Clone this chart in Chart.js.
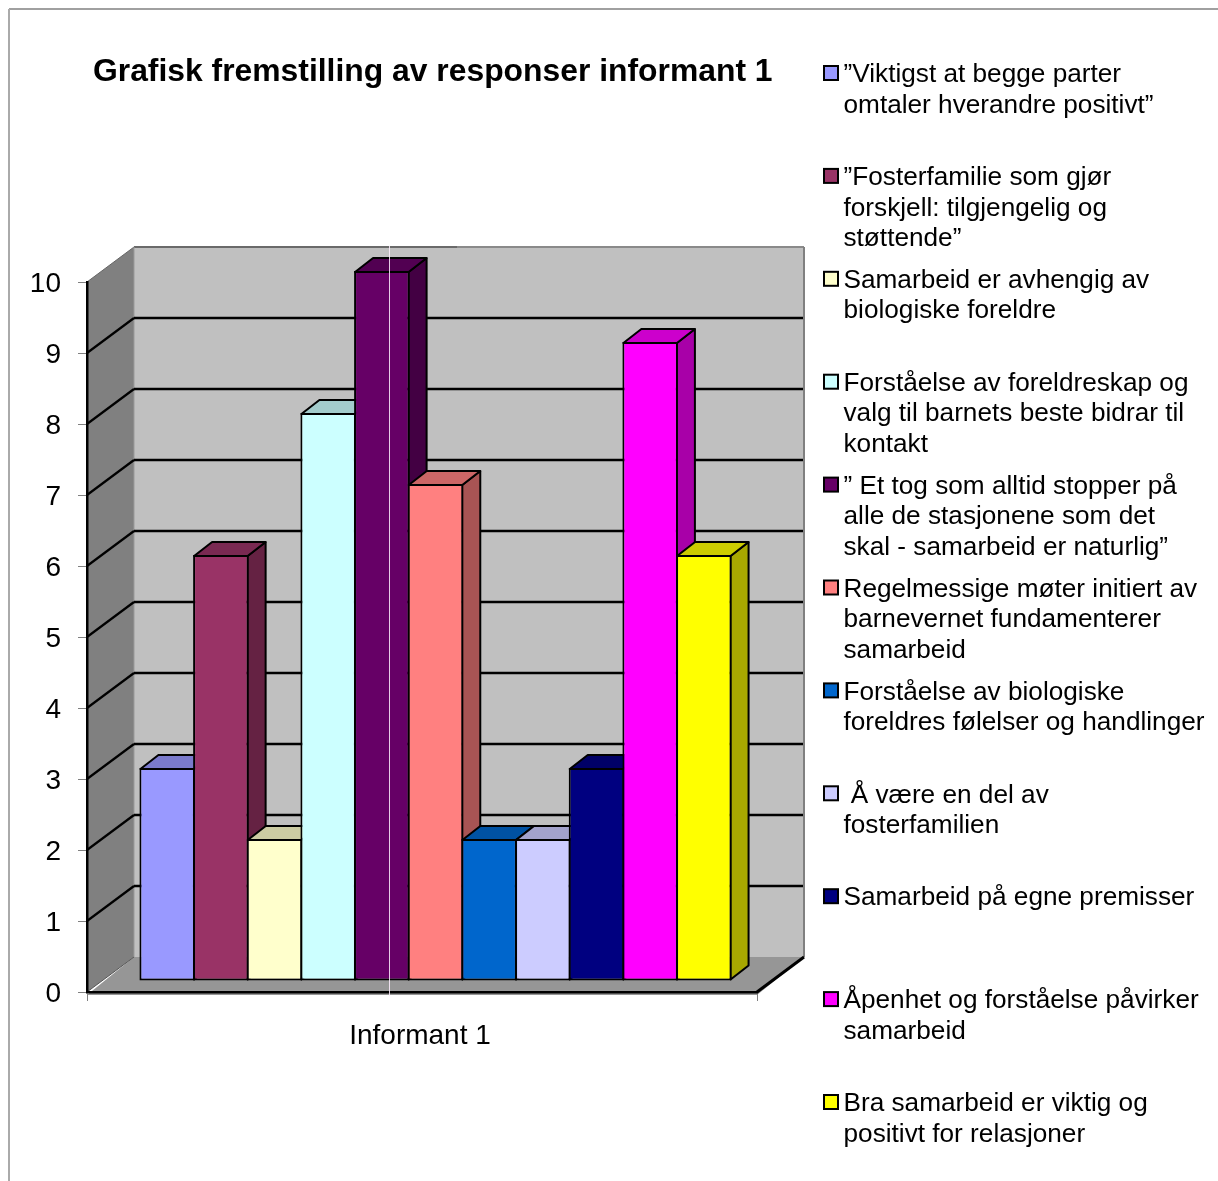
<!DOCTYPE html>
<html>
<head>
<meta charset="utf-8">
<style>html,body{margin:0;padding:0;background:#fff;overflow:hidden}canvas{display:block}</style>
<script src="https://cdn.jsdelivr.net/npm/chart.js@4"></script>
</head>
<body>
<canvas id="c" width="1218" height="1181"></canvas>
<script>
const chartTitle = 'Grafisk fremstilling av responser informant 1';
const categories = ['Informant 1'];
const seriesValues = [3, 6, 2, 8, 10, 7, 2, 2, 3, 9, 6];
const seriesColors = ['#9999FF','#993366','#FFFFCC','#CCFFFF','#660066','#FF8080','#0066CC','#CCCCFF','#000080','#FF00FF','#FFFF00'];
const seriesLabels = [
  ['”Viktigst at begge parter','omtaler hverandre positivt”'],
  ['”Fosterfamilie som gjør','forskjell: tilgjengelig og','støttende”'],
  ['Samarbeid er avhengig av','biologiske foreldre'],
  ['Forståelse av foreldreskap og','valg til barnets beste bidrar til','kontakt'],
  ['” Et tog som alltid stopper på','alle de stasjonene som det','skal - samarbeid er naturlig”'],
  ['Regelmessige møter initiert av','barnevernet fundamenterer','samarbeid'],
  ['Forståelse av biologiske','foreldres følelser og handlinger'],
  [' Å være en del av','fosterfamilien'],
  ['Samarbeid på egne premisser'],
  ['Åpenhet og forståelse påvirker','samarbeid'],
  ['Bra samarbeid er viktig og','positivt for relasjoner']
];
const FONT = '"Liberation Sans", Arial, sans-serif';

function shade(hex, f) {
  const n = parseInt(hex.slice(1), 16);
  const c = s => Math.round(((n >> s) & 255) * f);
  return `rgb(${c(16)},${c(8)},${c(0)})`;
}
function poly(ctx, pts, fill, stroke, lw) {
  ctx.beginPath();
  pts.forEach((p, i) => i ? ctx.lineTo(p[0], p[1]) : ctx.moveTo(p[0], p[1]));
  ctx.closePath();
  if (fill) { ctx.fillStyle = fill; ctx.fill(); }
  if (stroke) { ctx.strokeStyle = stroke; ctx.lineWidth = lw; ctx.lineJoin = 'round'; ctx.stroke(); }
}
function seg(ctx, x1, y1, x2, y2, color, lw) {
  ctx.beginPath(); ctx.moveTo(x1, y1); ctx.lineTo(x2, y2);
  ctx.strokeStyle = color; ctx.lineWidth = lw; ctx.stroke();
}

const WALL_DX = 47, WALL_DY = 35;   // depth of the box
const BAR_DX = 18, BAR_DY = 14;     // depth of a bar
const BAR_SHIFT_X = 13.5, BAR_SHIFT_Y = -11;

const box3d = {
  id: 'box3d',
  afterLayout(chart) {
    chart.titleBlock.left = 93;
    chart.titleBlock.right = 800;
  },
  beforeDraw(chart) {
    const ctx = chart.ctx, y = chart.scales.y, x = chart.scales.x, a = chart.chartArea;
    // nudge axis labels to the optical position of the source
    y.getLabelItems(a).forEach(it => { it.options.translation = [it.options.translation[0], it.options.translation[1] + 2.5]; });
    x.getLabelItems(a).forEach(it => { it.options.translation = [it.options.translation[0] - 2, it.options.translation[1] + 2]; });

    const L = a.left, R = a.right, T = y.getPixelForValue(10), B = y.getPixelForValue(0);
    ctx.save();
    ctx.fillStyle = '#fff'; ctx.fillRect(0, 0, chart.width, chart.height);
    seg(ctx, 9, 9, chart.width, 9, '#808080', 1.5);
    seg(ctx, 9, 9, 9, chart.height, '#aaaaaa', 2);

    // back wall, side wall, floor
    poly(ctx, [[L+WALL_DX,T-WALL_DY],[R+WALL_DX,T-WALL_DY],[R+WALL_DX,B-WALL_DY],[L+WALL_DX,B-WALL_DY]], '#c0c0c0');
    poly(ctx, [[L,T],[L+WALL_DX,T-WALL_DY],[L+WALL_DX,B-WALL_DY],[L,B]], '#808080');
    poly(ctx, [[L,B+3],[R,B+3],[R+WALL_DX,B-WALL_DY],[L+WALL_DX,B-WALL_DY]], '#969696');

    // box edges
    seg(ctx, L, T, L+WALL_DX, T-WALL_DY, '#666', 1);
    seg(ctx, L+WALL_DX, T-WALL_DY, 457, T-WALL_DY, '#6a6a6a', 2);
    seg(ctx, 457, T-WALL_DY, R+WALL_DX, T-WALL_DY, '#8a8a8a', 2);
    seg(ctx, R+WALL_DX, T-WALL_DY, R+WALL_DX, B-WALL_DY, '#808080', 2);
    seg(ctx, L+WALL_DX, T-WALL_DY, L+WALL_DX, B-WALL_DY, '#9a9a9a', 1);
    seg(ctx, L, B, L+WALL_DX, B-WALL_DY, '#555', 1);

    // gridlines
    y.ticks.forEach(t => {
      if (t.value <= 0 || t.value >= 10) return;
      const py = y.getPixelForValue(t.value);
      seg(ctx, L, py, L+WALL_DX, py-WALL_DY, '#000', 2.2);
      seg(ctx, L+WALL_DX, py-WALL_DY, R+WALL_DX-1, py-WALL_DY, '#000', 2.4);
    });
    seg(ctx, R, B, R+WALL_DX, B-WALL_DY, '#000', 3);
    ctx.restore();
  },
  beforeDatasetsDraw(chart) {
    const ctx = chart.ctx;
    ctx.save();
    ctx.translate(BAR_SHIFT_X, BAR_SHIFT_Y);
    chart.data.datasets.forEach((ds, i) => {
      const meta = chart.getDatasetMeta(i);
      const el = meta.data[0];
      const l = el.x - el.width / 2, r = el.x + el.width / 2, t = el.y, b = el.base;
      poly(ctx, [[r-1,t+1],[r+BAR_DX-1,t-BAR_DY+1],[r+BAR_DX-1,b-BAR_DY-1],[r-1,b-1]], shade(seriesColors[i], 0.66), '#000', 2);
      poly(ctx, [[l+1,t+1],[r-1,t+1],[r+BAR_DX-1,t-BAR_DY+1],[l+BAR_DX+1,t-BAR_DY+1]], shade(seriesColors[i], 0.8), '#000', 2);
      meta.controller.draw();
    });
    ctx.restore();
    return false;
  },
  afterDraw(chart) {
    const ctx = chart.ctx;
    ctx.save();
    // pale hairline that crosses the plot in the source image
    seg(ctx, 389.5, 246, 389.5, 996, 'rgba(255,240,255,0.85)', 1);

    // legend
    const font = 26.2, lineStep = 30.4, rowStep = 102.9, firstY = 73;
    ctx.font = `${font}px ${FONT}`;
    ctx.textBaseline = 'middle';
    ctx.textAlign = 'left';
    seriesLabels.forEach((lines, i) => {
      const cy = firstY + i * rowStep;
      ctx.fillStyle = seriesColors[i];
      ctx.fillRect(824, cy - 7, 14, 14);
      ctx.strokeStyle = '#000'; ctx.lineWidth = 2;
      ctx.strokeRect(824, cy - 7, 14, 14);
      ctx.fillStyle = '#000';
      lines.forEach((s, k) => ctx.fillText(s, 843.5, cy + k * lineStep + 2));
    });
    ctx.restore();
  }
};

new Chart(document.getElementById('c'), {
  type: 'bar',
  plugins: [box3d],
  data: {
    labels: categories,
    datasets: seriesValues.map((v, i) => ({
      label: seriesLabels[i].join(' ').trim(),
      data: [v],
      backgroundColor: seriesColors[i],
      borderColor: '#000',
      borderWidth: 2,
      borderSkipped: false,
      categoryPercentage: 0.881,
      barPercentage: 1.035
    }))
  },
  options: {
    responsive: false,
    animation: false,
    layout: { padding: { left: 0, right: 461, top: 0, bottom: 0 } },
    plugins: {
      legend: { display: false },
      tooltip: { enabled: false },
      title: {
        display: true,
        text: chartTitle,
        align: 'start',
        color: '#000',
        font: { family: FONT, size: 31.85, weight: 'bold', lineHeight: 1.2 },
        padding: { top: 53, bottom: 190.78 }
      }
    },
    scales: {
      x: {
        afterFit(s) { s.height = 189; },
        grid: { drawOnChartArea: false, drawTicks: true, tickLength: 9, color: '#808080', lineWidth: 1 },
        border: { color: '#000', width: 2.5 },
        ticks: { color: '#000', padding: 16, font: { family: FONT, size: 28 }, maxRotation: 0 }
      },
      y: {
        min: 0, max: 10,
        afterFit(s) { s.width = 87; },
        grid: { drawOnChartArea: false, drawTicks: true, tickLength: 9, color: '#808080', lineWidth: 1 },
        border: { color: '#000', width: 2.5 },
        ticks: { stepSize: 1, color: '#000', padding: 17, font: { family: FONT, size: 28 } }
      }
    }
  }
});
</script>
</body>
</html>
